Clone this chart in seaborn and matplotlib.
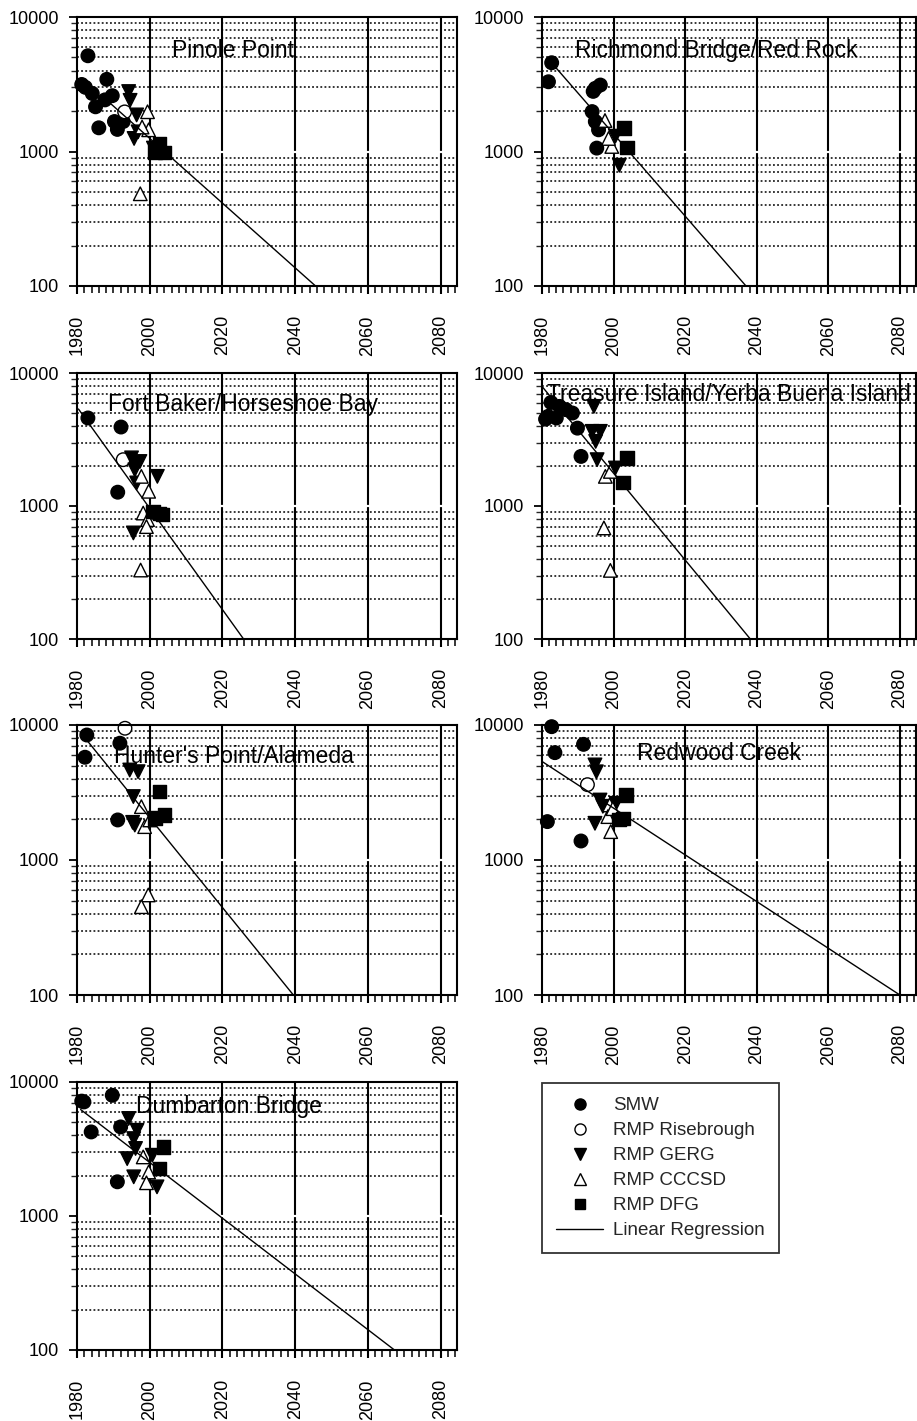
import matplotlib
matplotlib.use("Agg")
import matplotlib.pyplot as plt
from matplotlib.lines import Line2D
from matplotlib.ticker import FixedLocator, NullFormatter, MultipleLocator
import seaborn as sns
import pandas as pd

sns.set_style("white")
plt.rcParams["font.family"] = ["Liberation Sans", "DejaVu Sans"]

# ---------------- data ----------------
sites = ["Pinole Point", "Richmond Bridge/Red Rock", "Fort Baker/Horseshoe Bay",
         "Treasure Island/Yerba Buena Island", "Hunter's Point/Alameda",
         "Redwood Creek", "Dumbarton Bridge"]

sources = ["SMW", "RMP Risebrough", "RMP GERG", "RMP CCCSD", "RMP DFG"]

smw_year = [
    [1981.3, 1982.3, 1983.0, 1984.2, 1985.1, 1986.0, 1987.7, 1988.2, 1989.7, 1990.3, 1991.1, 1992.7],
    [1981.8, 1982.7, 1994.3, 1994.9, 1996.3, 1994.0, 1994.9, 1995.8, 1995.3],
    [1983.0, 1992.1, 1991.2],
    [1981.0, 1981.7, 1982.5, 1984.0, 1984.9, 1986.7, 1988.5, 1989.9, 1990.9],
    [1982.7, 1982.2, 1991.8, 1991.2],
    [1982.7, 1983.6, 1991.6, 1981.5, 1990.9],
    [1981.3, 1981.9, 1989.7, 1983.9, 1992.0, 1991.1],
]
smw_val = [
    [3150, 3000, 5150, 2700, 2150, 1500, 2420, 3440, 2600, 1670, 1460, 1670],
    [3300, 4570, 2800, 2950, 3120, 1980, 1670, 1450, 1060],
    [4590, 3925, 1270],
    [4500, 4720, 6000, 4590, 5610, 5300, 5000, 3850, 2360],
    [8430, 5770, 7330, 1980],
    [9720, 6240, 7190, 1925, 1383],
    [7200, 7100, 7960, 4240, 4620, 1800],
]

ris_year = [[1993.1], [], [1992.7], [], [1993.2], [1992.7], []]
ris_val = [[1970], [], [2230], [], [9460], [3615], []]

gerg_year = [
    [1994.2, 1994.6, 1996.4, 1995.7, 1996.8, 2001.0],
    [2000.5, 2001.6],
    [1995.0, 1997.3, 1995.9, 1996.4, 2002.1, 1995.5, 1996.2],
    [1994.5, 1994.0, 1996.3, 1995.0, 1995.4, 2000.5],
    [1994.5, 1996.8, 1995.5, 1995.9, 1995.3],
    [1994.8, 1995.2, 1996.2, 2000.7, 1994.8, 1997.0],
    [1994.2, 1996.5, 1995.6, 1996.1, 1993.8, 2000.7, 1995.6, 2002.0],
]
gerg_val = [
    [2790, 2400, 1870, 1250, 1400, 1060],
    [1300, 790],
    [2300, 2160, 1870, 1490, 1670, 627, 2100],
    [5610, 3640, 3640, 3060, 2230, 1930],
    [4640, 4510, 2950, 1815, 1900],
    [5060, 4500, 2780, 2630, 1870, 2500],
    [5340, 4360, 3780, 3190, 2680, 2840, 1960, 1650],
]

cccsd_year = [
    [1999.4, 1999.7, 1997.9, 1997.4],
    [1997.6, 1999.5, 1998.6],
    [1997.7, 1999.7, 1998.2, 1999.4, 1999.1, 1997.5],
    [1997.7, 1999.1, 1997.3, 1999.1],
    [1997.7, 1998.6, 2000.0, 1999.6, 1997.7],
    [1998.9, 1998.4, 1999.2, 1999.8],
    [1998.2, 1999.7, 1999.1],
]
cccsd_val = [
    [1975, 1450, 1520, 485],
    [1700, 1090, 1250],
    [1670, 1290, 885, 790, 700, 330],
    [1670, 1820, 684, 328],
    [2485, 1767, 1980, 551, 451],
    [2556, 2096, 1622, 2400],
    [2760, 2130, 1770],
]

dfg_year = [
    [2001.5, 2002.7, 2004.0],
    [2002.9, 2003.8],
    [2000.9, 2002.7, 2003.5],
    [2003.7, 2002.7],
    [2002.7, 2004.1, 2001.4],
    [2003.5, 2002.6, 2001.5],
    [2003.8, 2002.7],
]
dfg_val = [
    [990, 1150, 980],
    [1490, 1070],
    [910, 875, 860],
    [2300, 1500],
    [3210, 2150, 2040],
    [3030, 2036, 2000],
    [3280, 2260],
]

# linear regression lines (start / end)
reg_year = [[1988.5, 2045.6], [1981.6, 2037.0], [1980.4, 2025.8], [1980.0, 2038.2],
            [1980.8, 2039.5], [1980.1, 2080.0], [1981.0, 2067.3]]
reg_val = [[2366, 100], [4930, 100], [5360, 100], [7930, 100],
           [8930, 100], [5350, 100], [6230, 100]]

x_ticks = [1980, 2000, 2020, 2040, 2060, 2080]
y_ticks = [100, 1000, 10000]
y_tick_labels = ["100", "1000", "10000"]

# ---------------- layout ----------------
W, H = 917, 1421
fig = plt.figure(figsize=(W / 100, H / 100), dpi=100)
fig.patch.set_facecolor("white")

col_px = [(77, 380), (542, 374)]
row_px = [(17, 286), (373, 639), (725, 995), (1082, 1350)]
title_xy = [(0.41, 0.877), (0.465, 0.877), (0.437, 0.881), (0.50, 0.918),
            (0.413, 0.883), (0.473, 0.895), (0.40, 0.907)]

palette = {"SMW": "black", "RMP Risebrough": "white", "RMP GERG": "black",
           "RMP CCCSD": "white", "RMP DFG": "black"}
markers = {"SMW": "o", "RMP Risebrough": "o", "RMP GERG": "v",
           "RMP CCCSD": "^", "RMP DFG": "s"}

minor_y = [v * m for m in (100, 1000) for v in range(2, 10)]

for i, site in enumerate(sites):
    r, c = divmod(i, 2)
    left, width = col_px[c]
    top, bottom = row_px[r]
    ax = fig.add_axes([left / W, 1 - bottom / H, width / W, (bottom - top) / H])
    ax.set_yscale("log")
    ax.set_xlim(1980, 2084.5)
    ax.set_ylim(100, 10000)

    # grid
    for v in minor_y:
        ax.axhline(v, color="black", lw=1.1, ls=(0, (1.2, 1.5)), zorder=1)
    for xv in x_ticks[1:]:
        ax.axvline(xv, color="black", lw=1.5, zorder=1.2)
    ax.axhline(1000, color="white", lw=1.6, zorder=1.5)

    ax.text(title_xy[i][0], title_xy[i][1], site, transform=ax.transAxes,
            ha="center", va="center", fontsize=16.5, color="black", zorder=2)

    rows = []
    for src, yy, vv in zip(sources,
                           [smw_year, ris_year, gerg_year, cccsd_year, dfg_year],
                           [smw_val, ris_val, gerg_val, cccsd_val, dfg_val]):
        for x_, v_ in zip(yy[i], vv[i]):
            rows.append({"year": x_, "value": v_, "source": src})
    df = pd.DataFrame(rows)
    sns.scatterplot(data=df, x="year", y="value", hue="source", style="source",
                    palette=palette, markers=markers, hue_order=sources,
                    style_order=sources, s=95, edgecolor="black", linewidth=1.0,
                    legend=False, ax=ax, zorder=4, clip_on=False)

    sns.lineplot(x=reg_year[i], y=reg_val[i], color="black", lw=1.0, ax=ax, zorder=5)

    ax.set_xlabel("")
    ax.set_ylabel("")
    ax.xaxis.set_major_locator(FixedLocator(x_ticks))
    ax.xaxis.set_minor_locator(MultipleLocator(2))
    ax.set_xticklabels([str(t) for t in x_ticks])
    ax.yaxis.set_major_locator(FixedLocator(y_ticks))
    ax.yaxis.set_minor_locator(FixedLocator(minor_y))
    ax.yaxis.set_minor_formatter(NullFormatter())
    ax.set_yticklabels(y_tick_labels)

    ax.tick_params(axis="x", which="major", direction="out", length=6, width=1.5,
                   pad=15, labelsize=13, labelrotation=90, colors="black")
    ax.tick_params(axis="x", which="minor", direction="out", length=5, width=1.3)
    ax.tick_params(axis="y", which="major", direction="out", length=6, width=1.3,
                   pad=7, labelsize=13, colors="black")
    ax.tick_params(axis="y", which="minor", direction="out", length=4, width=1.0)
    ax.tick_params(bottom=True, left=True, which="both")

    for sp in ax.spines.values():
        sp.set_color("black")
        sp.set_linewidth(1.5)
        sp.set_visible(True)
        sp.set_zorder(6)

# legend
handles = [
    Line2D([], [], ls="none", marker="o", markerfacecolor="black", markeredgecolor="black", markersize=8),
    Line2D([], [], ls="none", marker="o", markerfacecolor="white", markeredgecolor="black", markersize=8),
    Line2D([], [], ls="none", marker="v", markerfacecolor="black", markeredgecolor="black", markersize=8),
    Line2D([], [], ls="none", marker="^", markerfacecolor="white", markeredgecolor="black", markersize=8),
    Line2D([], [], ls="none", marker="s", markerfacecolor="black", markeredgecolor="black", markersize=7),
    Line2D([], [], color="black", lw=1.0),
]
labels = sources + ["Linear Regression"]
leg = fig.legend(handles, labels, loc="upper left",
                 bbox_to_anchor=(542 / W, 1 - 1083 / H), frameon=True,
                 fancybox=False, edgecolor="black", fontsize=13.5,
                 handlelength=2.5, handletextpad=0.55, labelspacing=0.42,
                 borderpad=0.75, borderaxespad=0.0)
leg.get_frame().set_linewidth(1.3)

fig.savefig("out.png", dpi=100, facecolor="white")
